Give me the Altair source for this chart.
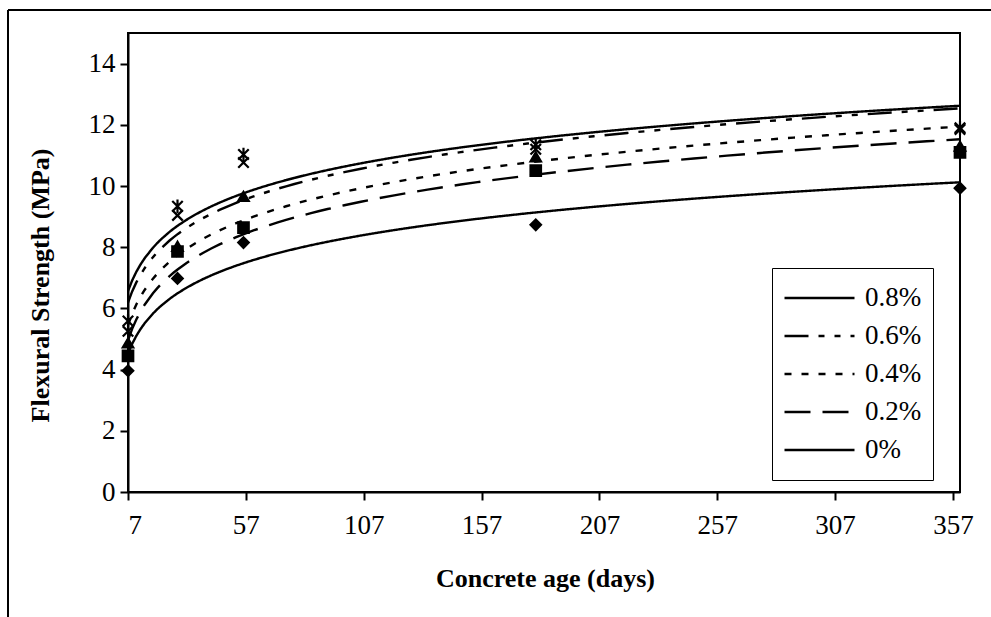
import altair as alt
import pandas as pd

# ---- data ----
ages = [7, 28, 56, 180, 360]
series_names = ["0.8%", "0.6%", "0.4%", "0.2%", "0%"]
s08 = [5.59, 9.34, 11.03, 11.35, 11.90]
s06 = [5.25, 9.04, 10.77, 11.20, 11.85]
s04 = [4.87, 8.03, 9.66, 10.95, 11.30]
s02 = [4.45, 7.86, 8.64, 10.50, 11.10]
s00 = [3.96, 6.98, 8.15, 8.73, 9.93]

x_ticks = [7, 57, 107, 157, 207, 257, 307, 357]
y_ticks = [0, 2, 4, 6, 8, 10, 12, 14]

rows = []
for name, vals in zip(series_names, [s08, s06, s04, s02, s00]):
    for a, v in zip(ages, vals):
        rows.append({"age": a, "value": v, "series": name})
df = pd.DataFrame(rows)

FONT = "Liberation Serif"

# marker shapes, listed from 0% up to 0.8%
shape_domain = ["0%", "0.2%", "0.4%", "0.6%", "0.8%"]
shape_range = [
    "diamond",                              # 0%
    "square",                               # 0.2%
    "triangle-up",                          # 0.4%
    "M-1,-1L1,1M-1,1L1,-1",                # x (0.6%)
    "M-1,-1L1,1M-1,1L1,-1M0,-1.3L0,1.3",   # asterisk (0.8%)
]
dash_range = [[1, 0], [24, 10, 6, 10, 6, 10], [7, 10], [26, 12], [1, 0]]

x_enc = alt.X("age:Q", scale=alt.Scale(domain=[7, 360], nice=False, zero=False),
              axis=alt.Axis(values=x_ticks, title="Concrete age (days)",
                            titleX=417, titleY=86, titleBaseline="middle", titleAlign="center"))
y_enc = alt.Y("value:Q", scale=alt.Scale(domain=[0, 15], nice=False),
              axis=alt.Axis(values=y_ticks, title="Flexural Strength (MPa)",
                            titleX=-88, titleY=252, titleBaseline="middle", titleAlign="center"))

points = alt.Chart(df).mark_point(
    fill="black", stroke="black", strokeWidth=2.2, opacity=1, fillOpacity=1, size=110
).encode(
    x=x_enc, y=y_enc,
    shape=alt.Shape("series:N", scale=alt.Scale(domain=shape_domain, range=shape_range), legend=None),
)

lines = alt.Chart(df).transform_regression(
    "age", "value", groupby=["series"], method="log", extent=[7, 360]
).transform_calculate(
    curve="datum.series"
).mark_line(color="black", strokeWidth=2.4).encode(
    x="age:Q", y="value:Q",
    strokeDash=alt.StrokeDash("curve:N", scale=alt.Scale(domain=series_names, range=dash_range),
                              legend=alt.Legend(title=None, orient="none", legendX=644, legendY=235)),
)

frame_df = pd.DataFrame({"k": [0]})
frame_v = alt.Chart(frame_df).mark_rule(color="black", strokeWidth=2).encode(
    x=alt.value(-120), y=alt.value(-23), y2=alt.value(584))
frame_h = alt.Chart(frame_df).mark_rule(color="black", strokeWidth=2).encode(
    x=alt.value(-120), x2=alt.value(863), y=alt.value(-23))

chart = alt.layer(lines, points, frame_v, frame_h).resolve_legend(
    shape="independent", strokeDash="independent"
).properties(
    width=832, height=459,
    autosize="none",
    padding={"left": 128, "top": 33, "right": 31, "bottom": 125},
    background="white",
).configure_view(
    stroke="black", strokeWidth=2
).configure_axis(
    grid=False, domainColor="black", domainWidth=2, tickColor="black", tickWidth=2, tickSize=8,
    labelFont=FONT, labelFontSize=27, labelColor="black", labelPadding=5,
    titleFont=FONT, titleFontSize=26, titleFontWeight="bold", titleColor="black",
).configure_axisX(
    labelPadding=12
).configure_legend(
    strokeColor="black", padding=11, symbolType="stroke", symbolSize=4900,
    symbolStrokeColor="black", symbolStrokeWidth=2.4, symbolFillColor="black",
    labelFont=FONT, labelFontSize=27, labelColor="black", labelOffset=9,
    rowPadding=0, clipHeight=38,
)

chart.save("out.html", embed_options={"renderer": "svg", "actions": False})
